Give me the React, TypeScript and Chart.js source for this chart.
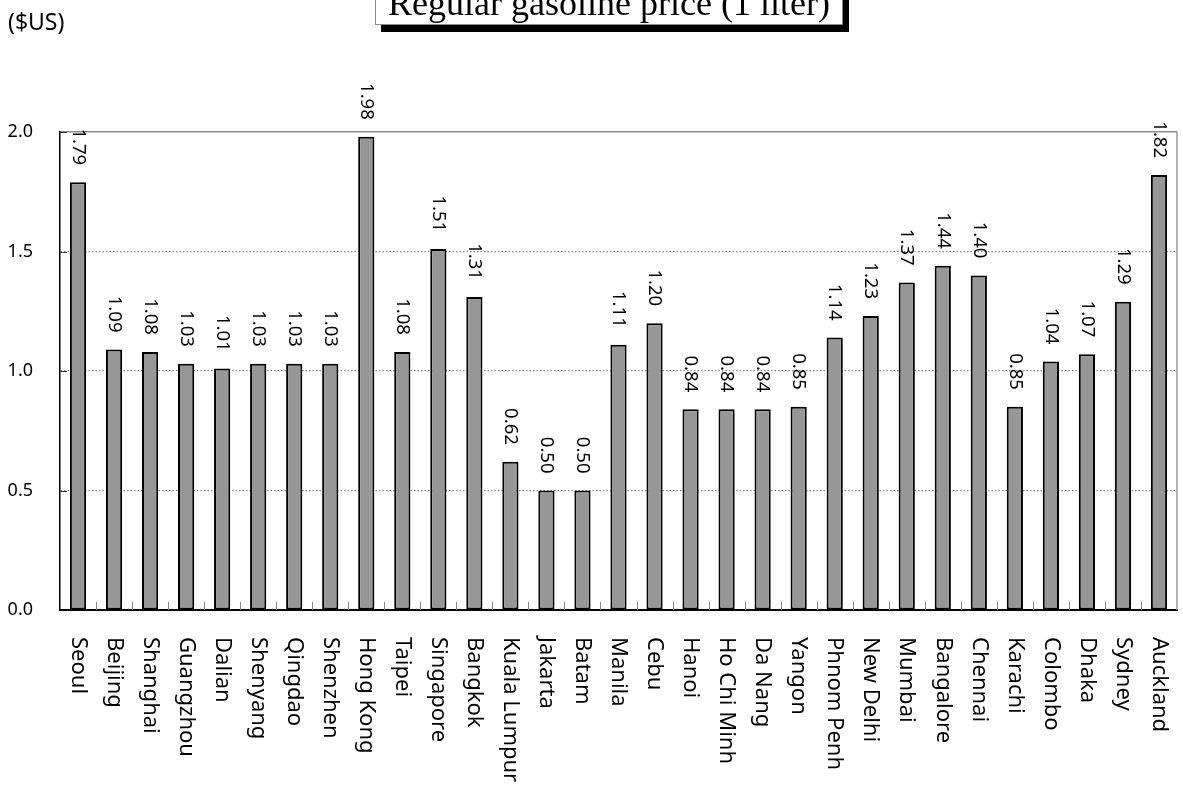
import React, { useEffect, useRef } from "react";
import { Chart, registerables } from "chart.js";

Chart.register(...registerables);

const cities: string[] = [
  "Seoul", "Beijing", "Shanghai", "Guangzhou", "Dalian", "Shenyang", "Qingdao", "Shenzhen",
  "Hong Kong", "Taipei", "Singapore", "Bangkok", "Kuala Lumpur", "Jakarta", "Batam", "Manila",
  "Cebu", "Hanoi", "Ho Chi Minh", "Da Nang", "Yangon", "Phnom Penh", "New Delhi", "Mumbai",
  "Bangalore", "Chennai", "Karachi", "Colombo", "Dhaka", "Sydney", "Auckland",
];

const prices: number[] = [
  1.79, 1.09, 1.08, 1.03, 1.01, 1.03, 1.03, 1.03,
  1.98, 1.08, 1.51, 1.31, 0.62, 0.5, 0.5, 1.11,
  1.2, 0.84, 0.84, 0.84, 0.85, 1.14, 1.23, 1.37,
  1.44, 1.4, 0.85, 1.04, 1.07, 1.29, 1.82,
];

const yTicks: number[] = [0, 0.5, 1.0, 1.5, 2.0];

const titleText = "Regular gasoline price (1 liter)";
const unitText = "($US)";
const SANS = "'Noto Sans', sans-serif";

const overlayPlugin = {
  id: "overlay",
  afterDraw(chart: any) {
    const { ctx, chartArea } = chart;
    const x = chart.scales.x;
    const y = chart.scales.y;
    const meta = chart.getDatasetMeta(0);
    ctx.save();
    // right border
    ctx.strokeStyle = "#999";
    ctx.lineWidth = 1.5;
    ctx.beginPath();
    ctx.moveTo(chartArea.right, chartArea.top);
    ctx.lineTo(chartArea.right, chartArea.bottom);
    ctx.stroke();
    // x inner ticks between categories
    ctx.lineWidth = 1;
    ctx.strokeStyle = "#888";
    for (let i = 1; i < cities.length; i++) {
      const px = Math.round((x.getPixelForValue(i - 1) + x.getPixelForValue(i)) / 2) + 0.5;
      ctx.beginPath();
      ctx.moveTo(px, chartArea.bottom);
      ctx.lineTo(px, chartArea.bottom - 8);
      ctx.stroke();
    }
    // y inner ticks
    ctx.strokeStyle = "#333";
    yTicks.forEach((v) => {
      if (v === 0) return;
      const py = Math.round(y.getPixelForValue(v)) + 0.5;
      ctx.beginPath();
      ctx.moveTo(chartArea.left, py);
      ctx.lineTo(chartArea.left + 7, py);
      ctx.stroke();
    });
    // value labels
    ctx.fillStyle = "#000";
    ctx.font = `18.5px ${SANS}`;
    meta.data.forEach((bar: any, i: number) => {
      ctx.save();
      ctx.translate(bar.x, bar.y - 17);
      ctx.rotate(Math.PI / 2);
      ctx.textAlign = "right";
      ctx.textBaseline = "middle";
      ctx.fillText(prices[i].toFixed(2), 0, 0);
      ctx.restore();
    });
    // category labels
    ctx.font = `22px ${SANS}`;
    cities.forEach((c, i) => {
      ctx.save();
      ctx.translate(x.getPixelForValue(i), chartArea.bottom + 27);
      ctx.rotate(Math.PI / 2);
      ctx.textAlign = "left";
      ctx.textBaseline = "middle";
      ctx.fillText(c, 0, 0);
      ctx.restore();
    });
    ctx.restore();
  },
};

export default function App() {
  const canvasRef = useRef<HTMLCanvasElement | null>(null);

  useEffect(() => {
    if (!canvasRef.current) return;
    const chart = new Chart(canvasRef.current, {
      type: "bar",
      data: {
        labels: cities,
        datasets: [
          {
            data: prices,
            backgroundColor: "#979797",
            borderColor: "#000",
            borderWidth: 2,
            borderSkipped: false,
            barPercentage: 0.45,
            categoryPercentage: 1,
          },
        ],
      },
      options: {
        animation: false,
        responsive: false,
        devicePixelRatio: 1,
        layout: { padding: { top: 132, bottom: 177, left: 0, right: 6 } },
        plugins: {
          legend: { display: false },
          title: { display: false },
          tooltip: { enabled: false },
        },
        scales: {
          x: {
            offset: true,
            grid: { display: false },
            ticks: { display: false },
            border: { display: true, color: "#000", width: 2 },
            afterFit: (s: any) => {
              s.height = 0;
            },
          },
          y: {
            min: 0,
            max: 2,
            afterBuildTicks: (s: any) => {
              s.ticks = yTicks.map((v) => ({ value: v }));
            },
            ticks: {
              padding: 27,
              color: "#000",
              font: { family: SANS, size: 18 },
              callback: (v: any) => Number(v).toFixed(1),
            },
            grid: {
              drawTicks: false,
              color: (c: any) => (c.tick && c.tick.value === 0 ? "rgba(0,0,0,0)" : "#8a8a8a"),
              lineWidth: (c: any) => (c.tick && c.tick.value === 2 ? 1.5 : 1.2),
            },
            border: {
              display: true,
              color: "#000",
              width: 1.5,
              dash: (c: any) => (c.tick && c.tick.value !== 2 ? [1.5, 2] : []),
            },
            afterFit: (s: any) => {
              s.width = 60;
            },
          },
        },
      },
      plugins: [overlayPlugin],
    });
    return () => chart.destroy();
  }, []);

  return (
    <div style={{ position: "fixed", left: 0, top: 0, width: 1183, height: 787, background: "#fff", overflow: "hidden" }}>
      <canvas ref={canvasRef} width={1183} height={787} style={{ position: "absolute", left: 0, top: 0, width: 1183, height: 787 }} />
      <div
        style={{
          position: "absolute",
          left: 8,
          top: 5,
          fontFamily: SANS,
          fontSize: 23,
          lineHeight: "32px",
          color: "#000",
        }}
      >
        {unitText}
      </div>
      <div
        style={{
          position: "absolute",
          left: 375,
          top: -18,
          width: 466,
          height: 41,
          border: "1px solid #888",
          background: "#fff",
          boxShadow: "6px 7px 0 #000",
          fontFamily: "'Liberation Serif', serif",
          fontSize: 36,
          lineHeight: "40px",
          textAlign: "center",
          whiteSpace: "nowrap",
          color: "#000",
        }}
      >
        {titleText}
      </div>
    </div>
  );
}
